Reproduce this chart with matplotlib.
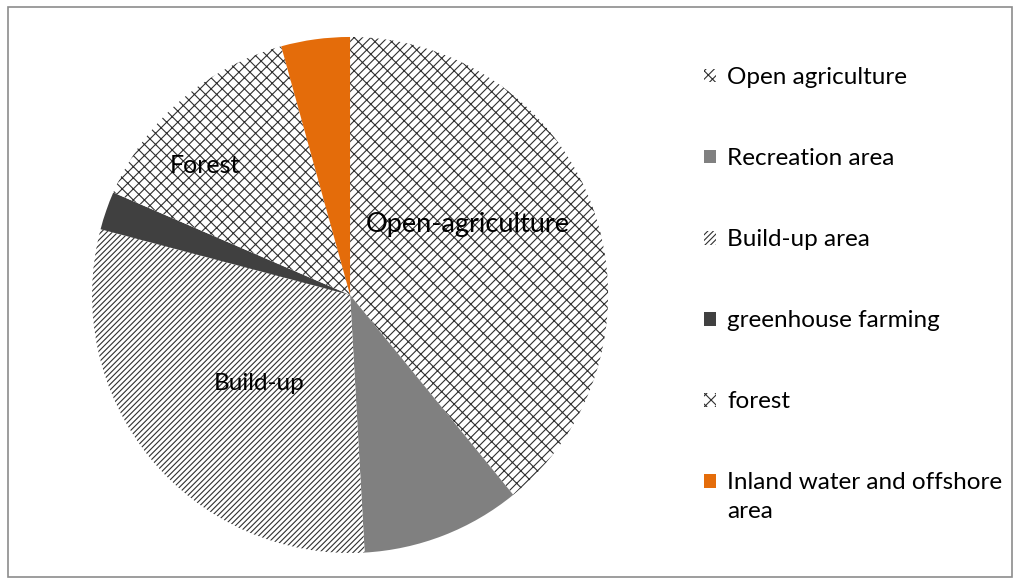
import matplotlib.pyplot as plt
from matplotlib.patches import Rectangle

plt.rcParams['font.family'] = ['Lato', 'DejaVu Sans']
plt.rcParams['hatch.linewidth'] = 0.8

categories = ['Open agriculture', 'Recreation area', 'Build-up area',
              'greenhouse farming', 'forest', 'Inland water and offshore\narea']
shares = [39.1, 10.0, 30.0, 2.4, 14.2, 4.3]
colors = ['white', '#808080', 'white', '#404040', 'white', '#E46C0A']
hatches = ['////\\\\', '', '//////', '', 'xxx', '']

fig = plt.figure(figsize=(10.2, 5.84), dpi=100)
ax = fig.add_axes([0.0902, 0.0531, 0.506, 0.8836])

wedges, _ = ax.pie(shares, colors=colors, startangle=90, counterclock=False,
                   radius=1.0, wedgeprops=dict(linewidth=0))
for w, h in zip(wedges, hatches):
    if h:
        w.set_hatch(h)
        w.set_edgecolor('#303030')
        w.set_linewidth(0)

ax.set_xlim(-1, 1)
ax.set_ylim(-1, 1)
ax.set_aspect('equal')

# in-slice labels
ax.text(0.457, 0.275, 'Open-agriculture', ha='center', va='center', fontsize=19.5)
ax.text(-0.353, -0.345, 'Build-up', ha='center', va='center', fontsize=17.5)
ax.text(-0.562, 0.50, 'Forest', ha='center', va='center', fontsize=18)

leg = ax.legend(wedges, categories, loc='upper left',
                bbox_to_anchor=(0.690, 0.885), bbox_transform=fig.transFigure,
                frameon=False, fontsize=17.5, handlelength=0.5,
                handleheight=0.5, handletextpad=0.45, labelspacing=2.47,
                borderpad=0, borderaxespad=0)
for t in leg.get_texts():
    t.set_linespacing(1.48)
# keep the last swatch level with the first line of its two-line label
last = leg.legend_handles[-1]
last.set_y(last.get_y() + 12)

fig.patches.append(Rectangle((0.008, 0.012), 0.984, 0.976, transform=fig.transFigure,
                             fill=False, edgecolor='#8c8c8c', linewidth=1.2))

fig.savefig('out.png', dpi=100)
